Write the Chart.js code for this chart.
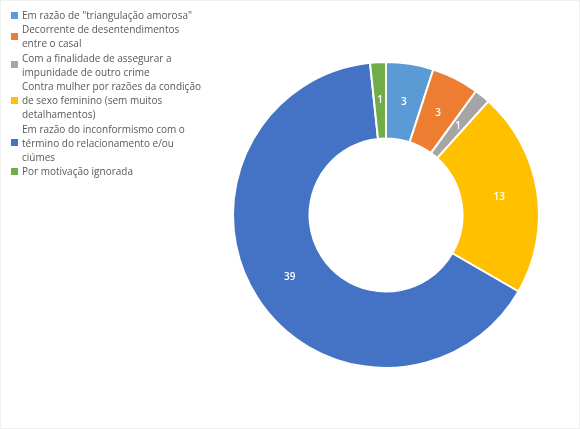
<!DOCTYPE html>
<html>
<head>
<meta charset="utf-8">
<script src="https://cdn.jsdelivr.net/npm/chart.js@4"></script>
<style>
  body { margin: 0; background: #fff; }
  .wrap { position: relative; width: 580px; height: 429px; box-sizing: border-box; border: 1px solid #f0f0f0; }
  #chart { position: absolute; left: 0; top: 0; }
  .legend { position: absolute; left: 10px; top: 7px; font-family: "Open Sans", sans-serif; font-size: 10px; color: #595959; }
  .legend .item { display: flex; align-items: center; }
  .legend .box { width: 7px; height: 7px; margin-right: 4px; flex: none; }
  .legend .text { line-height: 14.2px; white-space: nowrap; }
</style>
</head>
<body>
<div class="wrap">
  <canvas id="chart" width="580" height="429"></canvas>
  <div class="legend" id="legend"></div>
</div>
<script>
// Motivações (linhas quebradas como no original)
var labels = [
    ['Em razão de "triangulação amorosa"'],
    ['Decorrente de desentendimentos', 'entre o casal'],
    ['Com a finalidade de assegurar a', 'impunidade de outro crime'],
    ['Contra mulher por razões da condição', 'de sexo feminino (sem muitos', 'detalhamentos)'],
    ['Em razão do inconformismo com o', 'término do relacionamento e/ou', 'ciúmes'],
    ['Por motivação ignorada']
];
var values = [3, 3, 1, 13, 39, 1];
var colors = ['#5B9BD5', '#ED7D31', '#A5A5A5', '#FFC000', '#4472C4', '#70AD47'];

// rótulos dentro das fatias
var sliceLabels = {
    id: 'sliceLabels',
    afterDatasetsDraw: function(chart) {
        var ctx = chart.ctx;
        var meta = chart.getDatasetMeta(0);
        ctx.save();
        ctx.fillStyle = '#ffffff';
        ctx.font = '600 10px "Open Sans", sans-serif';
        ctx.textAlign = 'center';
        ctx.textBaseline = 'middle';
        meta.data.forEach(function(arc, i) {
            var pos = arc.tooltipPosition();
            ctx.fillText(String(values[i]), pos.x, pos.y);
        });
        ctx.restore();
    }
};

var chart = new Chart(document.getElementById('chart'), {
    type: 'doughnut',
    data: {
        labels: labels,
        datasets: [{
            data: values,
            backgroundColor: colors,
            borderColor: '#ffffff',
            borderWidth: 2
        }]
    },
    options: {
        responsive: false,
        animation: false,
        cutout: '50%',
        layout: {
            padding: { left: 231, right: 41, top: 60, bottom: 61 }
        },
        plugins: {
            legend: { display: false },
            tooltip: { enabled: false }
        }
    },
    plugins: [sliceLabels]
});

// Legenda
var legend = document.getElementById('legend');
for (var i = 0; i < labels.length; i++) {
    var item = document.createElement('div');
    item.className = 'item';
    var box = document.createElement('span');
    box.className = 'box';
    box.style.background = colors[i];
    var text = document.createElement('span');
    text.className = 'text';
    text.innerHTML = labels[i].map(function(l) {
        return l.replace(/&/g, '&amp;').replace(/</g, '&lt;');
    }).join('<br>');
    item.appendChild(box);
    item.appendChild(text);
    legend.appendChild(item);
}
</script>
</body>
</html>
